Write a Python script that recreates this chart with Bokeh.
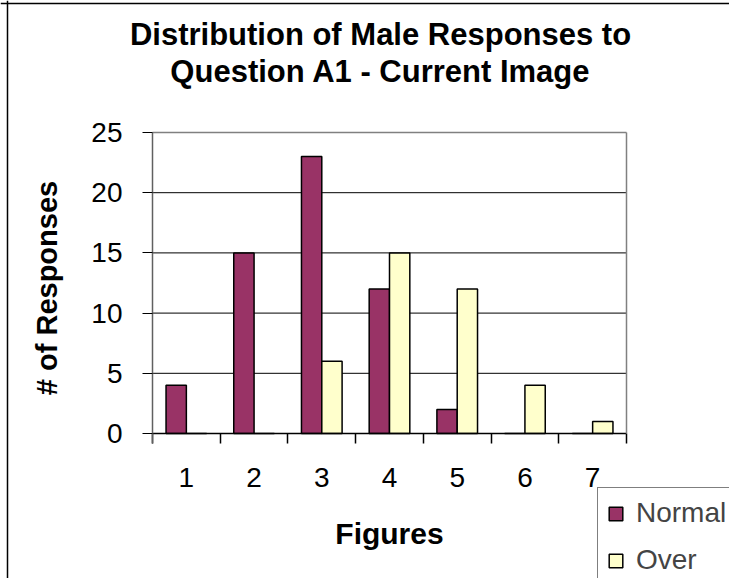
from bokeh.plotting import figure
from bokeh.models import (ColumnDataSource, FixedTicker, Legend, LegendItem,
                          Range1d, LinearAxis, Label, Span)
from bokeh.transform import dodge
from bokeh.embed import file_html
from bokeh.resources import INLINE

# ---- data ----
figures = [1, 2, 3, 4, 5, 6, 7]
normal = [4, 15, 23, 12, 2, 0, 0]
over = [0, 0, 6, 15, 12, 4, 1]
y_ticks = [0, 5, 10, 15, 20, 25]
boundaries = [0.5, 1.5, 2.5, 3.5, 4.5, 5.5, 6.5, 7.5]

title_lines = ["Distribution of Male Responses to", "Question A1 - Current Image"]
x_title = "Figures"
y_title = "# of Responses"
series_names = ["Normal", "Over"]

FONT = "Liberation Sans"

# ---- layout (canvas pixels) ----
W, H = 729, 578
PL, PR, PT, PB = 152, 626, 132, 433          # plot-area edges
X0, X1 = boundaries[0], boundaries[-1]
Y0, Y1 = y_ticks[0], y_ticks[-1]
sx = (PR - PL) / (X1 - X0)
sy = (PB - PT) / (Y1 - Y0)
x_range = Range1d(X0 - PL / sx, X1 + (W - PR) / sx)
y_range = Range1d(Y0 - (H - PB) / sy, Y1 + PT / sy)

src = ColumnDataSource(dict(x=figures, normal=normal, over=over))
grid_src = ColumnDataSource(dict(y=y_ticks[1:-1]))

p = figure(width=W, height=H, output_backend="svg", toolbar_location=None,
           x_range=x_range, y_range=y_range,
           x_axis_type=None, y_axis_type=None,
           min_border=0, title=None)
p.outline_line_color = None
p.background_fill_color = "white"
p.border_fill_color = "white"

# horizontal grid lines across the plot area only
p.segment(x0=X0, x1=X1, y0="y", y1="y", source=grid_src,
          line_color="black", line_width=1, level="underlay")

r_normal = p.vbar(x=dodge("x", -0.15, range=p.x_range), top="normal", width=0.3,
                  source=src, fill_color="#993366", line_color="black", line_width=1.5)
r_over = p.vbar(x=dodge("x", 0.15, range=p.x_range), top="over", width=0.3,
                source=src, fill_color="#FFFFCC", line_color="black", line_width=1.5)

# x axis
xa = LinearAxis(fixed_location=Y0, bounds=(X0, X1),
                ticker=FixedTicker(ticks=figures, minor_ticks=boundaries))
xa.major_tick_out = 0
xa.major_tick_in = 0
xa.minor_tick_out = 10
xa.minor_tick_in = 0
xa.minor_tick_line_color = "black"
xa.minor_tick_line_width = 1.5
xa.axis_line_color = "black"
xa.axis_line_width = 1.5
xa.major_label_text_font = FONT
xa.major_label_text_font_size = "28px"
xa.major_label_text_color = "black"
xa.major_label_standoff = 24
xa.axis_label = x_title
xa.axis_label_text_font = FONT
xa.axis_label_text_font_size = "30px"
xa.axis_label_text_font_style = "bold"
xa.axis_label_text_color = "black"
xa.axis_label_standoff = 27
p.add_layout(xa, "below")

# y axis
ya = LinearAxis(fixed_location=X0, bounds=(Y0 - 10 / sy, Y1),
                ticker=FixedTicker(ticks=y_ticks))
ya.major_tick_out = 10
ya.major_tick_in = 0
ya.minor_tick_out = 0
ya.minor_tick_in = 0
ya.major_tick_line_color = "black"
ya.major_tick_line_width = 1.2
ya.axis_line_color = "#606060"
ya.axis_line_width = 1.5
ya.major_label_text_font = FONT
ya.major_label_text_font_size = "28px"
ya.major_label_text_color = "black"
ya.major_label_standoff = 20
ya.axis_label = y_title
ya.axis_label_text_font = FONT
ya.axis_label_text_font_size = "29px"
ya.axis_label_text_font_style = "bold"
ya.axis_label_text_color = "black"
ya.axis_label_standoff = 25
p.add_layout(ya, "left")


def frame_edge(loc, bnds, side):
    ax = LinearAxis(fixed_location=loc, bounds=bnds, ticker=FixedTicker(ticks=[]))
    ax.axis_line_color = "#808080"
    ax.axis_line_width = 1.5
    ax.major_tick_out = 0
    ax.major_tick_in = 0
    ax.minor_tick_out = 0
    ax.minor_tick_in = 0
    ax.major_label_text_font_size = "0px"
    p.add_layout(ax, side)


frame_edge(Y1, (X0, X1), "above")   # top edge of plot area
frame_edge(X1, (Y0, Y1), "right")   # right edge of plot area

# title lines
for i, line in enumerate(title_lines):
    p.add_layout(Label(x=380, y=H - 34 - 37 * i, x_units="screen", y_units="screen",
                       text=line, text_align="center", text_baseline="alphabetic",
                       text_font=FONT, text_font_size="31px", text_font_style="bold",
                       text_color="black"))

# legend
legend = Legend(items=[LegendItem(label=series_names[0], renderers=[r_normal]),
                       LegendItem(label=series_names[1], renderers=[r_over])],
                location=(597, -8), orientation="vertical",
                label_text_font=FONT, label_text_font_size="28px",
                glyph_width=17, glyph_height=17, label_standoff=12,
                padding=9, spacing=15, margin=0,
                border_line_color="black", border_line_width=1.2,
                background_fill_color="white", background_fill_alpha=1)
p.add_layout(legend, "center")

# chart border (left and top edges)
p.add_layout(Span(location=x_range.start + 7 / sx, dimension="height",
                  line_color="black", line_width=1.5))
p.add_layout(Span(location=y_range.end - 3 / sy, dimension="width",
                  line_color="black", line_width=1.5))

open("out.html", "w").write(file_html(p, INLINE))
